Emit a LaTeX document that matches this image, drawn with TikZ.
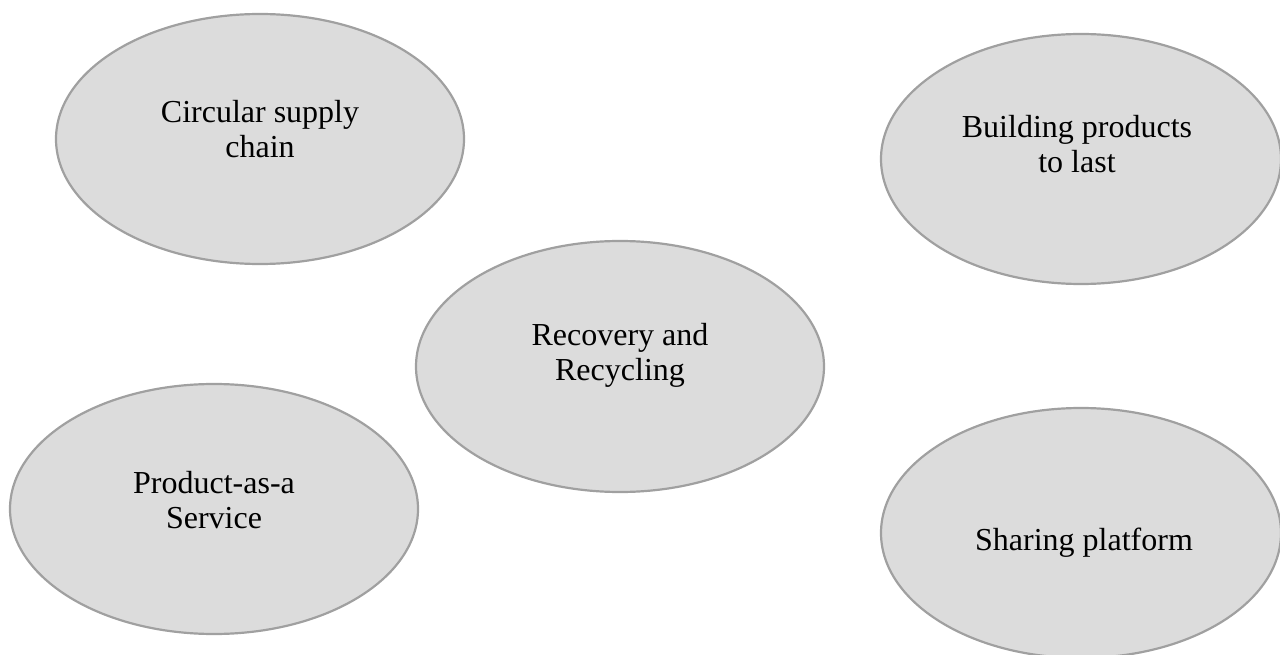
\documentclass[tikz,border=0pt]{standalone}
\usepackage{fontspec}
\setmainfont{Liberation Serif}
\definecolor{efill}{HTML}{DCDCDC}
\definecolor{edraw}{HTML}{A0A0A0}
\tikzset{
  oval/.style={ellipse, draw=edraw, fill=efill, line width=2.2pt, inner sep=0pt},
  lbl/.style={align=center, font=\fontsize{32}{35}\selectfont, text=black, inner sep=0pt}
}
\usetikzlibrary{shapes.geometric}
\begin{document}
\begin{tikzpicture}[x=1pt,y=-1pt]
\useasboundingbox (0,0) rectangle (1280,655);
\node[oval, minimum width=408pt, minimum height=250pt] (e1) at (260,139) {};
\node[oval, minimum width=400pt, minimum height=250pt] (e2) at (1081,159) {};
\node[oval, minimum width=408pt, minimum height=251pt] (e3) at (620,366.5) {};
\node[oval, minimum width=408pt, minimum height=250pt] (e4) at (214,509) {};
\node[oval, minimum width=400pt, minimum height=250pt] (e5) at (1081,533) {};
\node[lbl] (t1) at (260,129) {Circular supply\\chain};
\node[lbl] (t2) at (1077,144) {Building products\\to last};
\node[lbl] (t3) at (620,355) {Recovery and\\Recycling};
\node[lbl] (t4) at (214,500) {Product-as-a\\Service};
\node[lbl] (t5) at (1084,543) {Sharing platform};
\end{tikzpicture}
\end{document}
